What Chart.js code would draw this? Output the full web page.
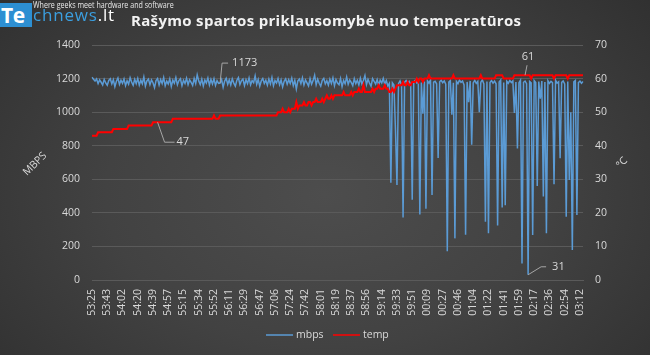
<!DOCTYPE html>
<html><head><meta charset="utf-8">
<script src="https://cdn.jsdelivr.net/npm/chart.js@4.4.1/dist/chart.umd.min.js"></script>
<style>
html,body{margin:0;padding:0;}
body{width:650px;height:355px;overflow:hidden;position:relative;
background:radial-gradient(ellipse 75% 95% at 50% 55%, #4d4d4d 0%, #424242 45%, #2c2c2c 100%);
font-family:"Open Sans",sans-serif;}
#c{position:absolute;left:0;top:0;}
#teBox{position:absolute;left:0;top:3px;width:32px;height:24px;background:#2d8fd2;overflow:hidden;}
#te{position:absolute;left:1px;top:0px;font:bold 21px/24px "Open Sans",sans-serif;color:#fff;letter-spacing:-0.5px;}
#ch{position:absolute;left:33px;top:3px;font:17px/24px "Open Sans",sans-serif;color:#3b9fe0;letter-spacing:0.8px;white-space:nowrap;}
#tag{position:absolute;left:33px;top:-1px;font:9px/12px "Open Sans",sans-serif;color:#e8e8e8;transform:scaleX(0.79);transform-origin:left top;white-space:nowrap;}
#title{position:absolute;left:131px;top:8px;font:bold 15px/24px "Open Sans",sans-serif;color:#f2f2f2;letter-spacing:0.32px;white-space:nowrap;}
</style></head>
<body>
<canvas id="c" width="650" height="355"></canvas>
<div id="teBox"><span id="te">Te</span></div>
<div id="ch">chnews<span style="color:#fff">.lt</span></div>
<div id="tag">Where geeks meet hardware and software</div>
<div id="title">Rašymo spartos priklausomybė nuo temperatūros</div>
<script>
const tickLabels = ["53:25","53:43","54:02","54:20","54:39","54:57","55:15","55:34","55:52","56:11","56:29","56:47","57:06","57:24","57:42","58:01","58:19","58:37","58:56","59:14","59:33","59:51","00:09","00:27","00:46","01:04","01:22","01:41","01:59","02:17","02:36","02:54","03:12"];
const mbps = [
1208,1196,1185,1198,1170,1192,1178,1162,1195,1174,
1160,1189,1199,1168,1193,1152,1184,1203,1165,1190,
1172,1198,1158,1187,1167,1205,1179,1160,1196,1170,
1201,1161,1190,1169,1210,1155,1186,1197,1164,1192,
1175,1146,1188,1200,1162,1194,1170,1206,1157,1185,
1168,1198,1153,1191,1173,1207,1163,1188,1199,1158,
1190,1171,1202,1164,1193,1178,1159,1200,1170,1222,
1186,1165,1197,1156,1191,1174,1204,1161,1195,1168,
1199,1159,1188,1171,1173,1194,1148,1185,1202,1166,
1192,1162,1198,1173,1155,1190,1206,1165,1187,1197,
1158,1193,1170,1204,1163,1188,1175,1216,1166,1195,
1154,1186,1200,1171,1190,1161,1197,1168,1207,1157,
1188,1174,1201,1163,1192,1151,1184,1198,1166,1193,
1171,1203,1158,1190,1138,1186,1197,1170,1205,1162,
1192,1174,1156,1200,1166,1188,1220,1163,1196,1172,
1155,1190,1201,1168,1187,1161,1197,1171,1204,1157,
1194,1173,1163,1200,1152,1189,1169,1209,1166,1192,
1177,1158,1199,1170,1190,1162,1202,1168,1188,1218,
1164,1196,1173,1155,1200,1184,1167,1194,1160,1190,
1174,1201,1166,1188,1157,1172,580,1175,1162,900,
566,1170,1186,1160,372,1178,1188,1172,1183,1165,
478,1180,1190,1174,1185,390,1176,990,1182,425,
1187,1173,1192,506,1178,1184,1169,727,1181,1190,
1175,1186,1166,171,1179,1188,985,1175,248,1183,
1170,1191,1177,1185,1162,270,1180,1060,1186,806,
1174,1189,1171,1183,999,1178,1192,1168,347,1182,
278,1176,1188,1173,1185,1169,324,1180,1191,432,
1177,445,1184,1172,1189,1176,1186,995,1180,784,
1175,1190,98,1178,1185,1170,31,1183,1174,268,
1188,1176,560,1182,1080,1185,498,1179,278,1187,
1171,1184,1176,570,1190,1173,1181,725,1177,1186,
1168,377,1183,596,1000,179,1180,1189,387,1176,
1185,1172,1182];
const temp = [
43,43,43,43,44,44,44,44,44,44,
44,44,44,44,45,45,45,45,45,45,
45,45,45,45,46,46,46,46,46,46,
46,46,46,46,46,46,46,46,46,46,
47,47,47,47,47,47,47,47,47,47,
47,47,47,48,48,48,48,48,48,48,
48,48,48,48,48,48,48,48,48,48,
48,48,48,48,48,48,48,48,48,48,
49,48,48,48,49,49,49,49,49,49,
49,49,49,49,49,49,49,49,49,49,
49,49,49,49,49,49,49,49,49,49,
49,49,49,49,49,49,49,49,49,49,
49,49,50,50,50,51,50,50,50,51,
50,51,51,51,53,51,52,52,52,53,
52,52,53,53,52,53,53,54,53,53,
53,54,53,54,55,54,54,55,54,55,
55,55,55,55,55,56,55,55,55,55,
56,55,56,56,56,57,56,56,58,56,
56,56,56,56,57,56,57,57,58,57,
57,57,58,57,57,56,56,57,56,57,
58,58,58,58,59,58,58,59,58,58,
59,59,59,60,59,60,60,59,60,60,
60,61,60,60,60,60,60,60,60,60,
60,60,60,60,60,60,60,61,60,60,
60,60,60,60,60,60,60,60,60,60,
60,60,60,60,60,61,60,60,60,60,
60,60,60,60,60,61,61,61,61,61,
60,60,60,60,60,60,60,61,61,61,
61,61,61,61,61,61,61,61,60,61,
61,61,61,61,61,61,61,61,61,61,
61,61,61,60,61,61,61,61,61,61,
61,61,60,61,61,61,61,61,61,61,
61,61,61];
const annotations = [
  {ds:0, idx:84, text:"1173", path:[[2,-20],[8,-20]], tx:12, ty:-20, align:'left'},
  {ds:1, idx:43, text:"47", path:[[7,20],[17,20]], tx:19, ty:20, align:'left'},
  {ds:1, idx:284, text:"61", path:[[2,-10]], tx:3, ty:-18, align:'center'},
  {ds:0, idx:286, text:"31", path:[[13,-8],[18,-8]], tx:24, ty:-8, align:'left'}
];

const FONT = '"Open Sans", sans-serif';
const TXT = '#d9d9d9';
const categories = mbps.map((_, i) => i);

const extras = {
  id: 'extras',
  afterDraw(chart) {
    const ctx = chart.ctx;
    ctx.save();
    ctx.font = '10.5px ' + FONT;
    ctx.fillStyle = TXT;
    ctx.textBaseline = 'middle';
    ctx.save(); ctx.translate(35, 164); ctx.rotate(-Math.PI/4);
    ctx.textAlign = 'center'; ctx.fillText('MBPS', 0, 0); ctx.restore();
    ctx.save(); ctx.translate(622, 163); ctx.rotate(-Math.PI/4);
    ctx.textAlign = 'center'; ctx.fillText('°C', 0, 0); ctx.restore();
    const xs = chart.scales.x;
    annotations.forEach(a => {
      const ys = a.ds === 0 ? chart.scales.y : chart.scales.y1;
      const v = a.ds === 0 ? mbps[a.idx] : temp[a.idx];
      const px = xs.getPixelForValue(a.idx), py = ys.getPixelForValue(v);
      ctx.strokeStyle = '#a6a6a6'; ctx.lineWidth = 1;
      ctx.beginPath(); ctx.moveTo(px, py);
      a.path.forEach(p => ctx.lineTo(px + p[0], py + p[1]));
      ctx.stroke();
      ctx.textAlign = a.align;
      ctx.font = '11px ' + FONT;
      ctx.fillText(a.text, px + a.tx, py + a.ty);
    });
    ctx.font = '10.5px ' + FONT;
    ctx.textAlign = 'left';
    const ly = 335;
    ctx.lineWidth = 1.5; ctx.strokeStyle = '#5b9bd5';
    ctx.beginPath(); ctx.moveTo(266, ly); ctx.lineTo(293, ly); ctx.stroke();
    ctx.fillText('mbps', 296, ly);
    ctx.strokeStyle = '#ff0000';
    ctx.beginPath(); ctx.moveTo(333, ly); ctx.lineTo(360, ly); ctx.stroke();
    ctx.fillText('temp', 363, ly);
    ctx.restore();
  }
};

new Chart(document.getElementById('c'), {
  type: 'line',
  data: {
    labels: categories,
    datasets: [
      {label:'mbps', data: mbps, yAxisID:'y', borderColor:'#5b9bd5', borderWidth:1.5, pointRadius:0, tension:0, order:1},
      {label:'temp', data: temp, yAxisID:'y1', borderColor:'#ff0000', borderWidth:2, pointRadius:0, tension:0, order:0}
    ]
  },
  options: {
    responsive:false, animation:false, devicePixelRatio:1,
    layout:{padding:{top:45, bottom:30, left:0, right:0}},
    plugins:{legend:{display:false}, tooltip:{enabled:false}},
    scales:{
      x:{
        type:'category',
        grid:{display:false, drawTicks:false},
        border:{display:true, color:'#5a5a5a'},
        ticks:{autoSkip:false, minRotation:90, maxRotation:90, padding:9, color:TXT, font:{family:FONT, size:10.5},
          callback:(v, i) => (i % 10 === 0 ? tickLabels[i/10] : null)},
        afterFit:(s) => { s.height = 45; }
      },
      y:{
        position:'left', min:0, max:1400,
        ticks:{stepSize:200, padding:12, color:TXT, font:{family:FONT, size:10.5}, callback:(v) => String(v)},
        grid:{color:'#5a5a5a', lineWidth:1, drawTicks:false},
        border:{display:false},
        afterFit:(s) => { s.width = 92; }
      },
      y1:{
        position:'right', min:0, max:70,
        ticks:{stepSize:10, padding:12, color:TXT, font:{family:FONT, size:10.5}, callback:(v) => String(v)},
        grid:{display:false, drawTicks:false},
        border:{display:false},
        afterFit:(s) => { s.width = 67; }
      }
    }
  },
  plugins:[extras]
});
</script>
</body></html>
